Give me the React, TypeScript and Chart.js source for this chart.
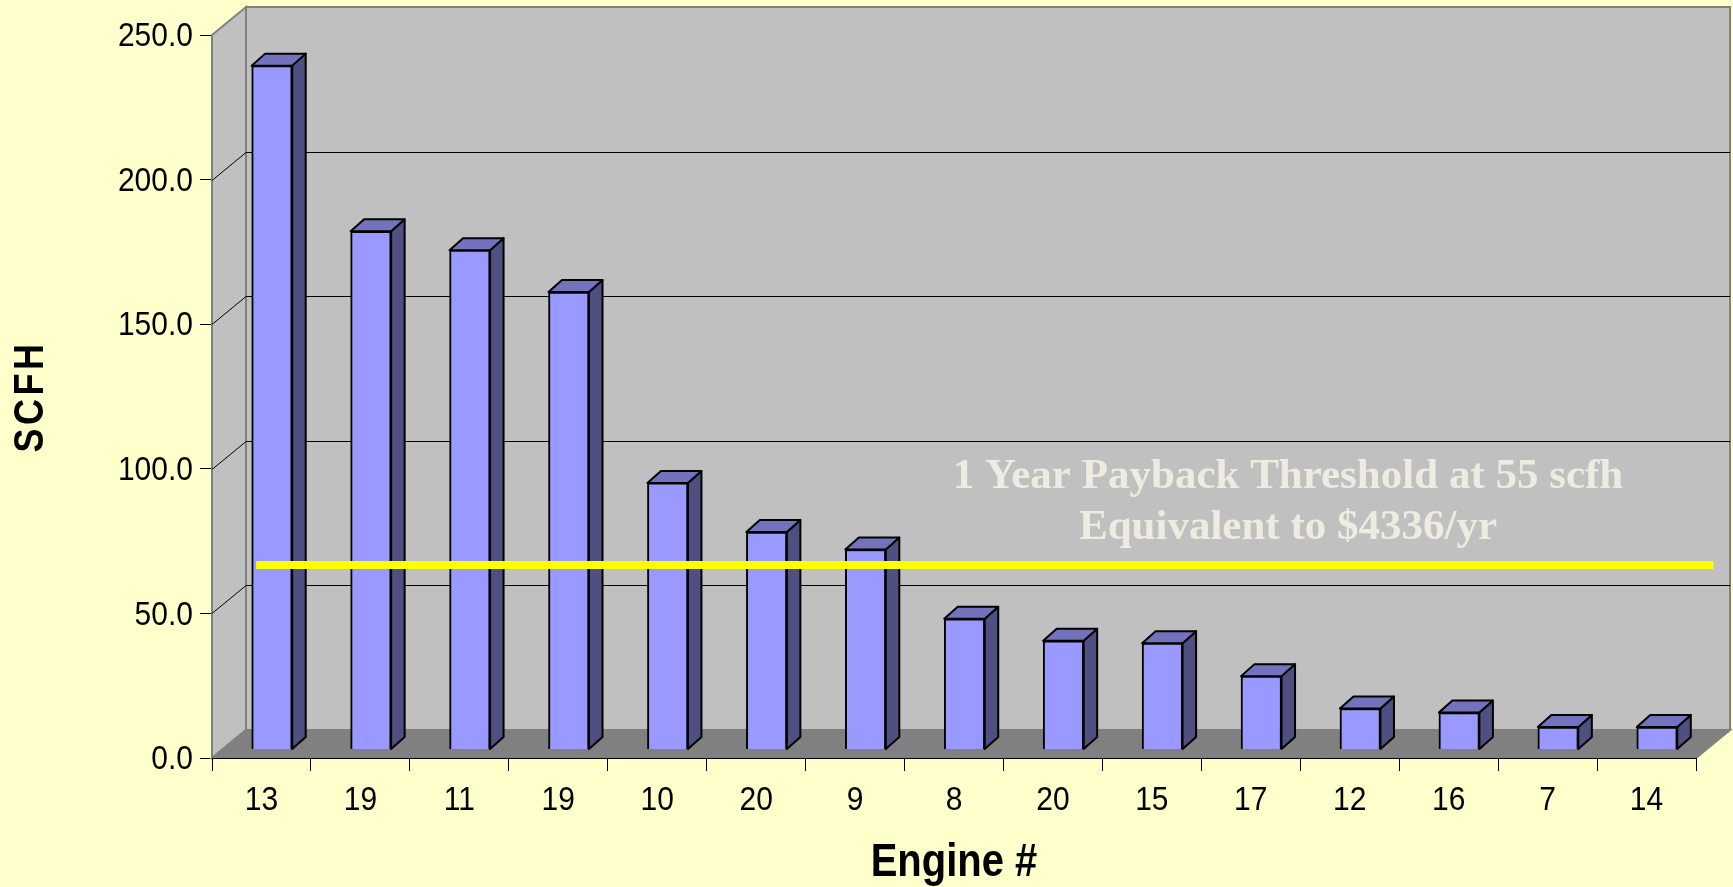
import React, { useEffect, useRef } from "react";
import { Chart, registerables } from "chart.js";

Chart.register(...registerables);

const engineLabels = ["13", "19", "11", "19", "10", "20", "9", "8", "20", "15", "17", "12", "16", "7", "14"];
const scfhValues = [236.3, 179, 172.5, 158, 92, 75, 69, 45, 37.4, 36.6, 25.2, 14, 12.6, 7.6, 7.6];
const thresholdIndex = [-0.16, 14.57];
const thresholdLevel = [63.6, 63.6];
const noteLines = ["1 Year Payback Threshold at 55 scfh", "Equivalent to $4336/yr"];

const FRONT_FONT = "Liberation Sans";
const WALL_DX = 34;
const WALL_DY = 28;
const BAR_DX = 13.5;
const BAR_DY = 12;
const TICK_STRETCH = 1.12;

function stretchLabels(scale: any, shift: number) {
  scale.drawLabels = function () {
    const ctx = this.ctx;
    for (const it of this.getLabelItems()) {
      const o = it.options;
      ctx.save();
      ctx.translate(o.translation[0], o.translation[1] + shift);
      ctx.scale(1, TICK_STRETCH);
      ctx.font = it.font.string;
      ctx.fillStyle = o.color;
      ctx.textAlign = o.textAlign;
      ctx.textBaseline = o.textBaseline;
      ctx.fillText(String(it.label), 0, it.textOffset);
      ctx.restore();
    }
  };
}

const scenePlugin = {
  id: "scene",
  afterLayout(chart: any) {
    const { x, y } = chart.scales;
    stretchLabels(x, 0);
    stretchLabels(y, 2);
    const drawX = Object.getPrototypeOf(x).drawTitle;
    x.drawTitle = function () {
      const ctx = this.ctx;
      const py = this.bottom - 24;
      ctx.save();
      ctx.translate(0, py);
      ctx.scale(1, 1.15);
      ctx.translate(0, -py);
      drawX.call(this);
      ctx.restore();
    };
    const drawY = Object.getPrototypeOf(y).drawTitle;
    y.drawTitle = function () {
      const ctx = this.ctx;
      const px = this.left + 30.6;
      ctx.save();
      ctx.translate(px, 0);
      ctx.scale(1.2, 1);
      ctx.translate(-px, 0);
      ctx.letterSpacing = "3.5px";
      drawY.call(this);
      ctx.restore();
    };
  },
  beforeDatasetsDraw(chart: any) {
    const { ctx, chartArea: a, scales } = chart;
    const y = scales.y;
    ctx.save();
    // back wall
    ctx.fillStyle = "#C0C0C0";
    ctx.strokeStyle = "#808080";
    ctx.lineWidth = 2;
    ctx.beginPath();
    ctx.rect(a.left + WALL_DX, a.top - WALL_DY, a.right - a.left, a.bottom - a.top);
    ctx.fill();
    ctx.stroke();
    // side wall
    ctx.beginPath();
    ctx.moveTo(a.left, a.top);
    ctx.lineTo(a.left + WALL_DX, a.top - WALL_DY);
    ctx.lineTo(a.left + WALL_DX, a.bottom - WALL_DY);
    ctx.lineTo(a.left, a.bottom);
    ctx.closePath();
    ctx.fill();
    ctx.stroke();
    // floor
    ctx.fillStyle = "#808080";
    ctx.beginPath();
    ctx.moveTo(a.left, a.bottom);
    ctx.lineTo(a.left + WALL_DX, a.bottom - WALL_DY);
    ctx.lineTo(a.right + WALL_DX, a.bottom - WALL_DY);
    ctx.lineTo(a.right, a.bottom);
    ctx.closePath();
    ctx.fill();
    ctx.stroke();
    // grid lines
    ctx.strokeStyle = "#000000";
    ctx.lineWidth = 1;
    for (const t of y.ticks) {
      if (t.value === 0 || t.value === y.max) continue;
      const py = Math.round(y.getPixelForValue(t.value)) + 0.5;
      ctx.beginPath();
      ctx.moveTo(a.left, py);
      ctx.lineTo(a.left + WALL_DX, py - WALL_DY);
      ctx.lineTo(a.right + WALL_DX, py - WALL_DY);
      ctx.stroke();
    }
    // top and side faces of the bars
    const meta = chart.getDatasetMeta(0);
    ctx.lineWidth = 2;
    ctx.strokeStyle = "#000000";
    ctx.lineJoin = "round";
    for (const el of meta.data) {
      const p = el.getProps(["x", "y", "base", "width"], true);
      const l = p.x - p.width / 2;
      const r = p.x + p.width / 2;
      ctx.fillStyle = "#4F4F82";
      ctx.beginPath();
      ctx.moveTo(r, p.y);
      ctx.lineTo(r + BAR_DX, p.y - BAR_DY);
      ctx.lineTo(r + BAR_DX, p.base - BAR_DY);
      ctx.lineTo(r, p.base);
      ctx.closePath();
      ctx.fill();
      ctx.stroke();
      ctx.fillStyle = "#7373BD";
      ctx.beginPath();
      ctx.moveTo(l, p.y);
      ctx.lineTo(l + BAR_DX, p.y - BAR_DY);
      ctx.lineTo(r + BAR_DX, p.y - BAR_DY);
      ctx.lineTo(r, p.y);
      ctx.closePath();
      ctx.fill();
      ctx.stroke();
    }
    ctx.restore();
  },
  afterDatasetsDraw(chart: any) {
    const { ctx } = chart;
    ctx.save();
    ctx.fillStyle = "#EEECE0";
    ctx.font = 'bold 43px "Liberation Serif"';
    ctx.textAlign = "center";
    ctx.textBaseline = "alphabetic";
    noteLines.forEach((line, i) => ctx.fillText(line, 1288, 488 + i * 51));
    ctx.restore();
  },
};

export default function App() {
  const ref = useRef<HTMLCanvasElement>(null);
  useEffect(() => {
    const chart = new Chart(ref.current as HTMLCanvasElement, {
      data: {
        labels: engineLabels,
        datasets: [
          {
            type: "bar",
            order: 1,
            data: scfhValues.map((v, i) => ({ x: i, y: v })),
            xAxisID: "xBar",
            yAxisID: "yBar",
            backgroundColor: "#9999FF",
            borderColor: "#000000",
            borderWidth: 2,
            barThickness: 40.5,
          },
          {
            type: "line",
            order: 0,
            data: thresholdIndex.map((x, i) => ({ x, y: thresholdLevel[i] })),
            xAxisID: "xBar",
            yAxisID: "yBar",
            borderColor: "#FFFF00",
            borderWidth: 8,
            pointRadius: 0,
            clip: false,
          },
        ],
      } as any,
      options: {
        animation: false,
        responsive: false,
        events: [],
        layout: { padding: { left: 0, top: 35, right: 37, bottom: 0 } },
        plugins: { legend: { display: false }, tooltip: { enabled: false } },
        scales: {
          x: {
            type: "category",
            offset: true,
            afterFit: (s: any) => { s.height = 129; },
            border: { color: "#000000", width: 1, z: 1 },
            grid: { drawOnChartArea: false, tickLength: 13, tickColor: "#000000", offset: true },
            ticks: { color: "#000000", font: { family: FRONT_FONT, size: 30 }, padding: 10, maxRotation: 0, autoSkip: false },
            title: {
              display: true,
              text: "Engine #",
              color: "#000000",
              font: { family: FRONT_FONT, size: 40, weight: "bold" },
              padding: { top: 12, bottom: 0 },
            },
          },
          y: {
            type: "linear",
            min: 0,
            max: 250,
            afterFit: (s: any) => { s.width = 212; },
            border: { color: "#808080", width: 2 },
            grid: { drawOnChartArea: false, tickLength: 12, tickColor: "#000000" },
            ticks: {
              stepSize: 50,
              color: "#000000",
              font: { family: FRONT_FONT, size: 30 },
              padding: 7,
              callback: (v: any) => Number(v).toFixed(1),
            },
            title: {
              display: true,
              text: "SCFH",
              color: "#000000",
              font: { family: FRONT_FONT, size: 36, weight: "bold" },
              padding: { top: 9, bottom: 0 },
            },
          },
          xBar: { type: "linear", display: false, offset: false, grid: { offset: false }, min: -0.606, max: 14.394 },
          yBar: { type: "linear", display: false, min: -3.11, max: 246.89 },
        },
      } as any,
      plugins: [scenePlugin],
    });
    return () => chart.destroy();
  }, []);
  return (
    <div style={{ position: "fixed", left: 0, top: 0, width: 1733, height: 887, background: "#FFFFCC" }}>
      <canvas ref={ref} width={1733} height={887} style={{ display: "block" }} />
    </div>
  );
}
